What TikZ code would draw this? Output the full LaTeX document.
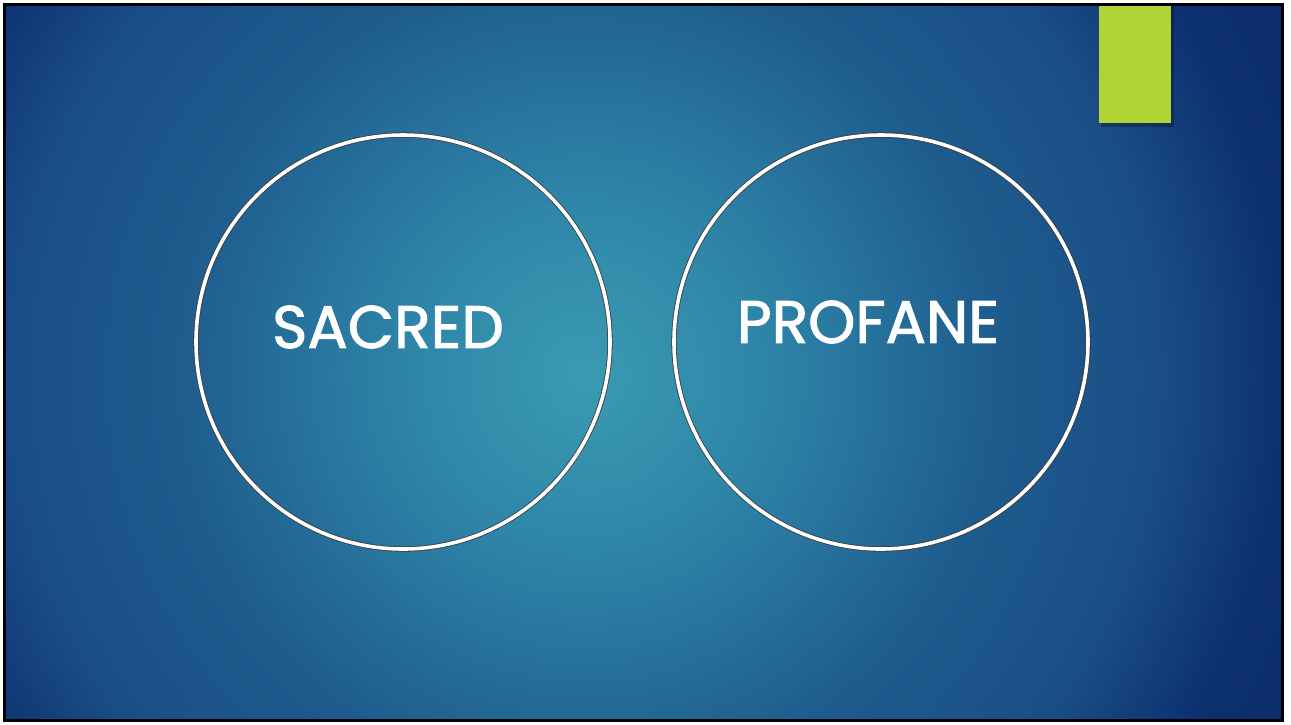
\documentclass[tikz,border=0pt]{standalone}
\usepackage{fontspec}
\newfontfamily\labelfont[FakeBold=1.6]{Poppins}
\definecolor{bgA}{HTML}{3A9BB2}
\definecolor{bgB}{HTML}{2F86A8}
\definecolor{bgC}{HTML}{26709B}
\definecolor{bgD}{HTML}{1E5C8D}
\definecolor{bgE}{HTML}{1A4D86}
\definecolor{bgF}{HTML}{0D3070}
\definecolor{bgG}{HTML}{0A2A66}
\definecolor{lime}{HTML}{B0D335}
\definecolor{ringedge}{HTML}{3A3A3A}
\pgfdeclareradialshading{bgshade}{\pgfpoint{0bp}{0bp}}{color(0bp)=(bgA); color(5bp)=(bgB); color(8.8bp)=(bgC); color(12.05bp)=(bgD); color(16.9bp)=(bgE); color(20.6bp)=(bgF); color(25bp)=(bgG); color(50bp)=(bgG)}
\tikzset{
  ring/.style={circle, inner sep=0pt, draw=ringedge, line width=0.8pt, double=white, double distance=3.6pt},
  word/.style={text=white, font=\labelfont\fontsize{60}{60}\selectfont, inner sep=0pt},
}
\begin{document}
\begin{tikzpicture}[x=1pt, y=-1pt]
\useasboundingbox (0,0) rectangle (1291,724);
\fill[white] (0,0) rectangle (1291,724);
\begin{scope}
  \clip (4.5,4.5) rectangle (1282.5,720.5);
  \fill[bgG] (0,0) rectangle (1291,724);
  \shade[shading=bgshade] (585,375) circle [radius=850];
  % green tab with shadow
  \fill[black, opacity=0.25] (1101,6) rectangle (1174,127);
  \node[fill=lime, inner sep=0pt, minimum width=72pt, minimum height=117pt, anchor=north west] (tab) at (1099,6) {};
\end{scope}
\draw[black, line width=3.5pt] (4.5,4.5) rectangle (1282.5,720.5);
\node[ring, minimum size=414pt] (sacredring) at (403,342) {};
\node[ring, minimum size=414pt] (profanering) at (881,342) {};
\node[word] (sacred) at (388,327) {SACRED};
\node[word] (profane) at (868,322) {PROFANE};
\end{tikzpicture}
\end{document}
